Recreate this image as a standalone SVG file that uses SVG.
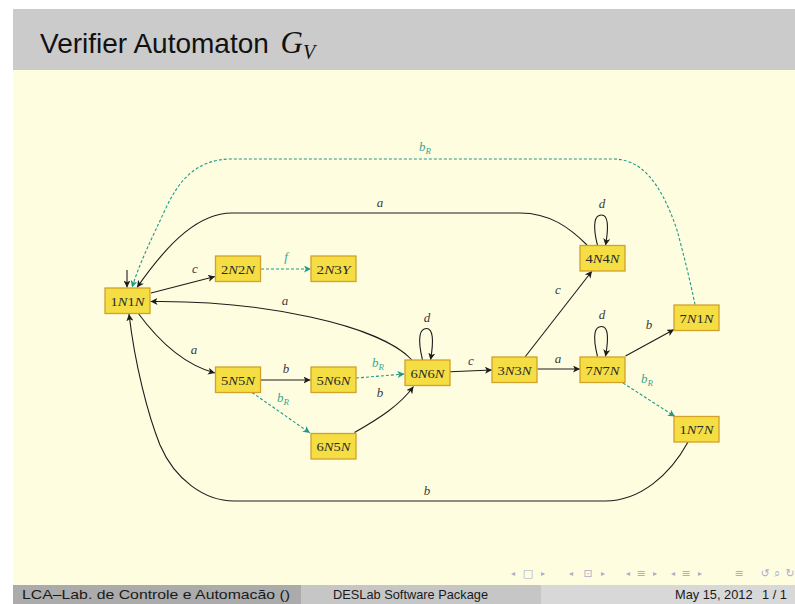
<svg xmlns="http://www.w3.org/2000/svg" width="795" height="604" viewBox="0 0 795 604">
  <style>
    .node rect { fill: #F5DE44; stroke: #D3A02A; stroke-width: 1.3; }
    .node text { font-family: "Liberation Serif", serif; font-size: 13.5px; fill: #2a2a2a; text-anchor: middle; }
    .it { font-style: italic; }
    .edge { fill: none; stroke: #1c1c1c; stroke-width: 1.1; }
    .dash { fill: none; stroke: #1E9A89; stroke-width: 1.1; stroke-dasharray: 3 2; }
    .lbl { font-family: "Liberation Serif", serif; font-style: italic; font-size: 13px; fill: #3a3a3a; text-anchor: middle; }
    .tlbl { font-family: "Liberation Serif", serif; font-style: italic; font-size: 13px; fill: #40A595; text-anchor: middle; }
    .sub { font-size: 9px; }
    .foot { font-family: "Liberation Sans", sans-serif; font-size: 12.8px; fill: #1a1a1a; }
    .nav text { font-family: "DejaVu Sans", sans-serif; font-size: 11px; fill: #ADADC8; text-anchor: middle; }
    .nav .sm { font-size: 8px; }
  </style>
  <defs>
    <marker id="ah" markerUnits="userSpaceOnUse" markerWidth="8" markerHeight="7" refX="7" refY="3.5" orient="auto">
      <path d="M0,0 L7,3.5 L0,7 L1.8,3.5 z" fill="#1c1c1c"/>
    </marker>
    <marker id="ahT" markerUnits="userSpaceOnUse" markerWidth="8" markerHeight="7" refX="7" refY="3.5" orient="auto">
      <path d="M0,0 L7,3.5 L0,7 L1.8,3.5 z" fill="#1E9A89"/>
    </marker>
  </defs>

  <!-- slide frame -->
  <rect x="0" y="0" width="795" height="604" fill="#FFFFFF"/>
  <rect x="13" y="9" width="782" height="595" fill="#FEFDE0"/>
  <rect x="13" y="9" width="782" height="61" fill="#CBCBCB"/>
  <text x="40" y="53" font-family="Liberation Sans, sans-serif" font-size="28" fill="#111">Verifier Automaton <tspan font-family="Liberation Serif, serif" font-style="italic" font-size="31" dx="4">G</tspan><tspan font-family="Liberation Serif, serif" font-style="italic" font-size="20" dy="6">V</tspan></text>

  <!-- connectors -->
  <g id="connectors">
    <!-- initial state marker -->
    <path class="edge" d="M127,270 L127,287.5" marker-end="url(#ah)"/>
    <!-- 1N1N -> 2N2N (c) -->
    <path class="edge" d="M151,293 L215,276.5" marker-end="url(#ah)"/>
    <text class="lbl" x="195" y="272.5">c</text>
    <!-- 2N2N -> 2N3Y (f) -->
    <path class="dash" d="M261,269 L311,269" marker-end="url(#ahT)"/>
    <text class="tlbl" x="286" y="261">f</text>
    <!-- 6N6N -> 1N1N (a) -->
    <path class="edge" d="M412,360 C380,325 260,300 150.5,301.5" marker-end="url(#ah)"/>
    <text class="lbl" x="285" y="305">a</text>
    <!-- 1N1N -> 5N5N (a) -->
    <path class="edge" d="M138,313 C160,343 185,365 215,373" marker-end="url(#ah)"/>
    <text class="lbl" x="194" y="354">a</text>
    <!-- 5N5N -> 5N6N (b) -->
    <path class="edge" d="M261,380 L310.5,380" marker-end="url(#ah)"/>
    <text class="lbl" x="286" y="373">b</text>
    <!-- 5N5N -> 6N5N (bR) -->
    <path class="dash" d="M252,392.5 L310,433" marker-end="url(#ahT)"/>
    <text class="tlbl" x="283" y="402">b<tspan class="sub" dy="3">R</tspan></text>
    <!-- 5N6N -> 6N6N (bR) -->
    <path class="dash" d="M356,378 L404.5,374" marker-end="url(#ahT)"/>
    <text class="tlbl" x="378" y="367">b<tspan class="sub" dy="3">R</tspan></text>
    <!-- 6N5N -> 6N6N (b) -->
    <path class="edge" d="M354.5,432.5 C380,418 400,405 413.5,386.5" marker-end="url(#ah)"/>
    <text class="lbl" x="380" y="397">b</text>
    <!-- 6N6N self loop (d) -->
    <path class="edge" d="M422.5,360 C417,337 420,328.5 426.5,328.5 C433,328.5 434,340 430.5,360" marker-end="url(#ah)"/>
    <text class="lbl" x="427" y="322">d</text>
    <!-- 6N6N -> 3N3N (c) -->
    <path class="edge" d="M450,371.7 L492,370" marker-end="url(#ah)"/>
    <text class="lbl" x="471" y="364.5">c</text>
    <!-- 3N3N -> 4N4N (c) -->
    <path class="edge" d="M525,357 L592,271" marker-end="url(#ah)"/>
    <text class="lbl" x="558" y="293.5">c</text>
    <!-- 3N3N -> 7N7N (a) -->
    <path class="edge" d="M537.5,369 L580,369" marker-end="url(#ah)"/>
    <text class="lbl" x="558" y="362.5">a</text>
    <!-- 4N4N self loop (d) -->
    <path class="edge" d="M597.5,245.5 C592,223 595,215 601.5,215 C608,215 609,226 605.5,245.5" marker-end="url(#ah)"/>
    <text class="lbl" x="602" y="208">d</text>
    <!-- 7N7N self loop (d) -->
    <path class="edge" d="M597.5,356.5 C592,334 595,326.5 601.5,326.5 C608,326.5 609,337 605.5,356.5" marker-end="url(#ah)"/>
    <text class="lbl" x="602" y="319">d</text>
    <!-- 4N4N -> 1N1N (a) -->
    <path class="edge" d="M587,245 C570,228 550,213 520,213 L232,213 C200,213 170,240 137,287.5" marker-end="url(#ah)"/>
    <text class="lbl" x="380" y="206.5">a</text>
    <!-- 7N1N -> 1N1N (bR) -->
    <path class="dash" d="M695,304.5 C690,280 683,252 677,230 C660,180 640,159 613,159 L232,159 C195,159 178,182 165,210 C152,238 140,262 132,287.5" marker-end="url(#ahT)"/>
    <text class="tlbl" x="425" y="151">b<tspan class="sub" dy="3">R</tspan></text>
    <!-- 7N7N -> 7N1N (b) -->
    <path class="edge" d="M625.5,356 L674,329.5" marker-end="url(#ah)"/>
    <text class="lbl" x="649" y="329">b</text>
    <!-- 7N7N -> 1N7N (bR) -->
    <path class="dash" d="M623,383 L675,416.5" marker-end="url(#ahT)"/>
    <text class="tlbl" x="647" y="383">b<tspan class="sub" dy="3">R</tspan></text>
    <!-- 1N7N -> 1N1N (b) -->
    <path class="edge" d="M688,442 C670,475 640,501 605,501 L234,501 C205,501 175,480 160,445 C148,415 135,365 129,314" marker-end="url(#ah)"/>
    <text class="lbl" x="427" y="495">b</text>
  </g>

  <!-- states -->
  <g id="n1N1N" class="node"><rect x="105" y="288" width="45" height="25.5"/><text x="127.5" y="305.5" textLength="34" lengthAdjust="spacingAndGlyphs">1<tspan class="it">N</tspan>1<tspan class="it">N</tspan></text></g>
  <g id="n2N2N" class="node"><rect x="215.5" y="256" width="45" height="25.5"/><text x="238" y="273.5" textLength="34" lengthAdjust="spacingAndGlyphs">2<tspan class="it">N</tspan>2<tspan class="it">N</tspan></text></g>
  <g id="n2N3Y" class="node"><rect x="311" y="256" width="45" height="25.5"/><text x="333.5" y="273.5" textLength="34" lengthAdjust="spacingAndGlyphs">2<tspan class="it">N</tspan>3<tspan class="it">Y</tspan></text></g>
  <g id="n5N5N" class="node"><rect x="215.5" y="367" width="45" height="25.5"/><text x="238" y="384.5" textLength="34" lengthAdjust="spacingAndGlyphs">5<tspan class="it">N</tspan>5<tspan class="it">N</tspan></text></g>
  <g id="n5N6N" class="node"><rect x="311" y="367" width="45" height="25.5"/><text x="333.5" y="384.5" textLength="34" lengthAdjust="spacingAndGlyphs">5<tspan class="it">N</tspan>6<tspan class="it">N</tspan></text></g>
  <g id="n6N5N" class="node"><rect x="311" y="433.5" width="45" height="25.5"/><text x="333.5" y="451" textLength="34" lengthAdjust="spacingAndGlyphs">6<tspan class="it">N</tspan>5<tspan class="it">N</tspan></text></g>
  <g id="n6N6N" class="node"><rect x="405" y="360" width="45" height="25.5"/><text x="427.5" y="377.5" textLength="34" lengthAdjust="spacingAndGlyphs">6<tspan class="it">N</tspan>6<tspan class="it">N</tspan></text></g>
  <g id="n3N3N" class="node"><rect x="492" y="357" width="45" height="25.5"/><text x="514.5" y="374.5" textLength="34" lengthAdjust="spacingAndGlyphs">3<tspan class="it">N</tspan>3<tspan class="it">N</tspan></text></g>
  <g id="n4N4N" class="node"><rect x="580" y="245.5" width="45" height="25.5"/><text x="602.5" y="263" textLength="34" lengthAdjust="spacingAndGlyphs">4<tspan class="it">N</tspan>4<tspan class="it">N</tspan></text></g>
  <g id="n7N7N" class="node"><rect x="580" y="357" width="45" height="25.5"/><text x="602.5" y="374.5" textLength="34" lengthAdjust="spacingAndGlyphs">7<tspan class="it">N</tspan>7<tspan class="it">N</tspan></text></g>
  <g id="n7N1N" class="node"><rect x="674" y="305" width="45" height="25.5"/><text x="696.5" y="322.5" textLength="34" lengthAdjust="spacingAndGlyphs">7<tspan class="it">N</tspan>1<tspan class="it">N</tspan></text></g>
  <g id="n1N7N" class="node"><rect x="674" y="416.5" width="45" height="25.5"/><text x="696.5" y="434" textLength="34" lengthAdjust="spacingAndGlyphs">1<tspan class="it">N</tspan>7<tspan class="it">N</tspan></text></g>

  <!-- navigation symbols -->
  <g class="nav">
    <text class="sm" x="513" y="576">◂</text><text x="528" y="577">□</text><text class="sm" x="543" y="576">▸</text>
    <text class="sm" x="571" y="576">◂</text><text x="588" y="577">⊡</text><text class="sm" x="603" y="576">▸</text>
    <text class="sm" x="628" y="576">◂</text><text x="641" y="577">≡</text><text class="sm" x="655" y="576">▸</text>
    <text class="sm" x="673" y="576">◂</text><text x="686" y="577">≡</text><text class="sm" x="700" y="576">▸</text>
    <text x="739" y="577">≡</text>
    <text x="765" y="577">↺</text><text x="777" y="577">⌕</text><text x="790" y="577">↻</text>
  </g>

  <!-- footline -->
  <rect x="13" y="585" width="288" height="19" fill="#ABABAB"/>
  <rect x="301" y="585" width="240" height="19" fill="#C6C6C6"/>
  <rect x="541" y="585" width="254" height="19" fill="#D8D8D8"/>
  <text class="foot" x="22" y="599" textLength="268" lengthAdjust="spacingAndGlyphs">LCA–Lab. de Controle e Automacão  ()</text>
  <text class="foot" x="333" y="599" textLength="155" lengthAdjust="spacingAndGlyphs">DESLab Software Package</text>
  <text class="foot" x="675" y="599">May 15, 2012</text>
  <text class="foot" x="762" y="599">1 / 1</text>
</svg>
